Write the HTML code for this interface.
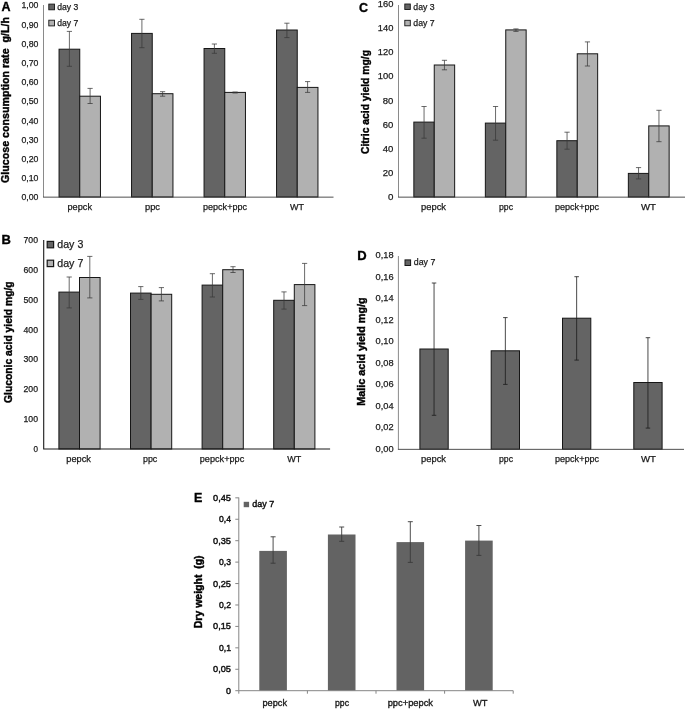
<!DOCTYPE html>
<html lang="en"><head><meta charset="utf-8"><title>Figure</title>
<style>
html,body{margin:0;padding:0;background:#fff;}
body{width:685px;height:709px;overflow:hidden;}
svg{display:block;font-family:"Liberation Sans",sans-serif;}
</style></head><body>
<svg width="685" height="709" viewBox="0 0 685 709">
<rect width="685" height="709" fill="#ffffff"/>
<g id="chartA">
<rect x="59.05" y="49.20" width="20.70" height="147.80" fill="#646464" stroke="#161616" stroke-width="1"/>
<rect x="79.75" y="96.20" width="20.70" height="100.80" fill="#b1b1b1" stroke="#161616" stroke-width="1"/>
<path d="M69.40 31.40V66.30M66.80 31.40H72.00M66.80 66.30H72.00" stroke="#3a3a3a" stroke-width="0.75" fill="none"/>
<path d="M90.10 88.40V103.50M87.50 88.40H92.70M87.50 103.50H92.70" stroke="#3a3a3a" stroke-width="0.75" fill="none"/>
<rect x="131.55" y="33.40" width="20.70" height="163.60" fill="#646464" stroke="#161616" stroke-width="1"/>
<rect x="152.25" y="93.70" width="20.70" height="103.30" fill="#b1b1b1" stroke="#161616" stroke-width="1"/>
<path d="M141.90 19.30V47.70M139.30 19.30H144.50M139.30 47.70H144.50" stroke="#3a3a3a" stroke-width="0.75" fill="none"/>
<path d="M162.60 91.70V96.20M160.00 91.70H165.20M160.00 96.20H165.20" stroke="#3a3a3a" stroke-width="0.75" fill="none"/>
<rect x="204.05" y="48.50" width="20.70" height="148.50" fill="#646464" stroke="#161616" stroke-width="1"/>
<rect x="224.75" y="92.40" width="20.70" height="104.60" fill="#b1b1b1" stroke="#161616" stroke-width="1"/>
<path d="M214.40 44.00V53.30M211.80 44.00H217.00M211.80 53.30H217.00" stroke="#3a3a3a" stroke-width="0.75" fill="none"/>
<path d="M235.10 92.00V93.00M232.50 92.00H237.70M232.50 93.00H237.70" stroke="#3a3a3a" stroke-width="0.75" fill="none"/>
<rect x="276.55" y="30.00" width="20.70" height="167.00" fill="#646464" stroke="#161616" stroke-width="1"/>
<rect x="297.25" y="87.40" width="20.70" height="109.60" fill="#b1b1b1" stroke="#161616" stroke-width="1"/>
<path d="M286.90 23.20V37.60M284.30 23.20H289.50M284.30 37.60H289.50" stroke="#3a3a3a" stroke-width="0.75" fill="none"/>
<path d="M307.60 81.60V92.40M305.00 81.60H310.20M305.00 92.40H310.20" stroke="#3a3a3a" stroke-width="0.75" fill="none"/>
<path d="M43.5 5V197" stroke="#8a8a8a" stroke-width="1" fill="none"/>
<path d="M43.0 197.15H333.5" stroke="#3c3c3c" stroke-width="0.9" fill="none"/>
<text x="38.4" y="200.3" font-size="9.6" text-anchor="end" textLength="17" lengthAdjust="spacingAndGlyphs" fill="#1a1a1a" stroke="#1a1a1a" stroke-width="0.25">0,00</text>
<text x="38.4" y="181.1" font-size="9.6" text-anchor="end" textLength="17" lengthAdjust="spacingAndGlyphs" fill="#1a1a1a" stroke="#1a1a1a" stroke-width="0.25">0,10</text>
<text x="38.4" y="161.9" font-size="9.6" text-anchor="end" textLength="17" lengthAdjust="spacingAndGlyphs" fill="#1a1a1a" stroke="#1a1a1a" stroke-width="0.25">0,20</text>
<text x="38.4" y="142.7" font-size="9.6" text-anchor="end" textLength="17" lengthAdjust="spacingAndGlyphs" fill="#1a1a1a" stroke="#1a1a1a" stroke-width="0.25">0,30</text>
<text x="38.4" y="123.5" font-size="9.6" text-anchor="end" textLength="17" lengthAdjust="spacingAndGlyphs" fill="#1a1a1a" stroke="#1a1a1a" stroke-width="0.25">0,40</text>
<text x="38.4" y="104.3" font-size="9.6" text-anchor="end" textLength="17" lengthAdjust="spacingAndGlyphs" fill="#1a1a1a" stroke="#1a1a1a" stroke-width="0.25">0,50</text>
<text x="38.4" y="85.1" font-size="9.6" text-anchor="end" textLength="17" lengthAdjust="spacingAndGlyphs" fill="#1a1a1a" stroke="#1a1a1a" stroke-width="0.25">0,60</text>
<text x="38.4" y="65.9" font-size="9.6" text-anchor="end" textLength="17" lengthAdjust="spacingAndGlyphs" fill="#1a1a1a" stroke="#1a1a1a" stroke-width="0.25">0,70</text>
<text x="38.4" y="46.7" font-size="9.6" text-anchor="end" textLength="17" lengthAdjust="spacingAndGlyphs" fill="#1a1a1a" stroke="#1a1a1a" stroke-width="0.25">0,80</text>
<text x="38.4" y="27.5" font-size="9.6" text-anchor="end" textLength="17" lengthAdjust="spacingAndGlyphs" fill="#1a1a1a" stroke="#1a1a1a" stroke-width="0.25">0,90</text>
<text x="38.4" y="8.3" font-size="9.6" text-anchor="end" textLength="17" lengthAdjust="spacingAndGlyphs" fill="#1a1a1a" stroke="#1a1a1a" stroke-width="0.25">1,00</text>
<text x="1.6" y="10.7" font-size="12.5" font-weight="bold" fill="#000" stroke="#000" stroke-width="0.35">A</text>
<text x="9.4" y="183" font-size="10.2" font-weight="bold" textLength="166" lengthAdjust="spacingAndGlyphs" transform="rotate(-90 9.4 183)" fill="#000" stroke="#000" stroke-width="0.4">Glucose consumption rate&#160; g/L/h</text>
<rect x="48.8" y="4.1" width="5.7" height="5.7" fill="#646464" stroke="#161616" stroke-width="0.9"/>
<text x="57.3" y="9.8" font-size="9.5" textLength="21" lengthAdjust="spacingAndGlyphs" fill="#1a1a1a" stroke="#1a1a1a" stroke-width="0.25">day 3</text>
<rect x="48.8" y="20.2" width="5.7" height="5.7" fill="#b1b1b1" stroke="#161616" stroke-width="0.9"/>
<text x="57.3" y="25.8" font-size="9.5" textLength="21" lengthAdjust="spacingAndGlyphs" fill="#1a1a1a" stroke="#1a1a1a" stroke-width="0.25">day 7</text>
<text x="79.75" y="210" font-size="9.3" text-anchor="middle" textLength="24.5" lengthAdjust="spacingAndGlyphs" fill="#1a1a1a" stroke="#1a1a1a" stroke-width="0.25">pepck</text>
<text x="152.5" y="210" font-size="9.3" text-anchor="middle" textLength="15" lengthAdjust="spacingAndGlyphs" fill="#1a1a1a" stroke="#1a1a1a" stroke-width="0.25">ppc</text>
<text x="225.0" y="210" font-size="9.3" text-anchor="middle" textLength="44" lengthAdjust="spacingAndGlyphs" fill="#1a1a1a" stroke="#1a1a1a" stroke-width="0.25">pepck+ppc</text>
<text x="297.0" y="210" font-size="9.3" text-anchor="middle" textLength="14" lengthAdjust="spacingAndGlyphs" fill="#1a1a1a" stroke="#1a1a1a" stroke-width="0.25">WT</text>
</g>
<g id="chartC">
<rect x="413.85" y="122.10" width="20.40" height="74.90" fill="#646464" stroke="#161616" stroke-width="1"/>
<rect x="434.25" y="65.00" width="20.40" height="132.00" fill="#b1b1b1" stroke="#161616" stroke-width="1"/>
<path d="M424.05 106.50V138.20M421.45 106.50H426.65M421.45 138.20H426.65" stroke="#3a3a3a" stroke-width="0.75" fill="none"/>
<path d="M444.45 60.30V69.80M441.85 60.30H447.05M441.85 69.80H447.05" stroke="#3a3a3a" stroke-width="0.75" fill="none"/>
<rect x="485.35" y="123.10" width="20.40" height="73.90" fill="#646464" stroke="#161616" stroke-width="1"/>
<rect x="505.75" y="29.90" width="20.40" height="167.10" fill="#b1b1b1" stroke="#161616" stroke-width="1"/>
<path d="M495.55 106.50V140.20M492.95 106.50H498.15M492.95 140.20H498.15" stroke="#3a3a3a" stroke-width="0.75" fill="none"/>
<path d="M515.95 28.90V31.40M513.35 28.90H518.55M513.35 31.40H518.55" stroke="#3a3a3a" stroke-width="0.75" fill="none"/>
<rect x="556.85" y="140.70" width="20.40" height="56.30" fill="#646464" stroke="#161616" stroke-width="1"/>
<rect x="577.25" y="53.80" width="20.40" height="143.20" fill="#b1b1b1" stroke="#161616" stroke-width="1"/>
<path d="M567.05 132.20V149.20M564.45 132.20H569.65M564.45 149.20H569.65" stroke="#3a3a3a" stroke-width="0.75" fill="none"/>
<path d="M587.45 41.90V66.00M584.85 41.90H590.05M584.85 66.00H590.05" stroke="#3a3a3a" stroke-width="0.75" fill="none"/>
<rect x="628.35" y="173.40" width="20.40" height="23.60" fill="#646464" stroke="#161616" stroke-width="1"/>
<rect x="648.75" y="125.90" width="20.40" height="71.10" fill="#b1b1b1" stroke="#161616" stroke-width="1"/>
<path d="M638.55 167.60V178.90M635.95 167.60H641.15M635.95 178.90H641.15" stroke="#3a3a3a" stroke-width="0.75" fill="none"/>
<path d="M658.95 110.30V141.70M656.35 110.30H661.55M656.35 141.70H661.55" stroke="#3a3a3a" stroke-width="0.75" fill="none"/>
<path d="M398.5 5V197" stroke="#8a8a8a" stroke-width="1" fill="none"/>
<path d="M398.0 197.15H685" stroke="#3c3c3c" stroke-width="0.9" fill="none"/>
<text x="393.4" y="199.9" font-size="9.7" text-anchor="end" textLength="5.4" lengthAdjust="spacingAndGlyphs" fill="#1a1a1a" stroke="#1a1a1a" stroke-width="0.25">0</text>
<text x="393.4" y="175.8" font-size="9.7" text-anchor="end" textLength="10.6" lengthAdjust="spacingAndGlyphs" fill="#1a1a1a" stroke="#1a1a1a" stroke-width="0.25">20</text>
<text x="393.4" y="151.7" font-size="9.7" text-anchor="end" textLength="10.6" lengthAdjust="spacingAndGlyphs" fill="#1a1a1a" stroke="#1a1a1a" stroke-width="0.25">40</text>
<text x="393.4" y="127.6" font-size="9.7" text-anchor="end" textLength="10.6" lengthAdjust="spacingAndGlyphs" fill="#1a1a1a" stroke="#1a1a1a" stroke-width="0.25">60</text>
<text x="393.4" y="103.5" font-size="9.7" text-anchor="end" textLength="10.6" lengthAdjust="spacingAndGlyphs" fill="#1a1a1a" stroke="#1a1a1a" stroke-width="0.25">80</text>
<text x="393.4" y="79.4" font-size="9.7" text-anchor="end" textLength="15.6" lengthAdjust="spacingAndGlyphs" fill="#1a1a1a" stroke="#1a1a1a" stroke-width="0.25">100</text>
<text x="393.4" y="55.3" font-size="9.7" text-anchor="end" textLength="15.6" lengthAdjust="spacingAndGlyphs" fill="#1a1a1a" stroke="#1a1a1a" stroke-width="0.25">120</text>
<text x="393.4" y="31.2" font-size="9.7" text-anchor="end" textLength="15.6" lengthAdjust="spacingAndGlyphs" fill="#1a1a1a" stroke="#1a1a1a" stroke-width="0.25">140</text>
<text x="393.4" y="7.1" font-size="9.7" text-anchor="end" textLength="15.6" lengthAdjust="spacingAndGlyphs" fill="#1a1a1a" stroke="#1a1a1a" stroke-width="0.25">160</text>
<text x="359" y="11.6" font-size="12.5" font-weight="bold" fill="#000" stroke="#000" stroke-width="0.35">C</text>
<text x="369" y="154" font-size="10.2" font-weight="bold" textLength="104" lengthAdjust="spacingAndGlyphs" transform="rotate(-90 369 154)" fill="#000" stroke="#000" stroke-width="0.4">Citric acid yield mg/g</text>
<rect x="404.8" y="4" width="5.5" height="5.5" fill="#646464" stroke="#161616" stroke-width="0.9"/>
<text x="413.3" y="9.8" font-size="9.5" textLength="21.3" lengthAdjust="spacingAndGlyphs" fill="#1a1a1a" stroke="#1a1a1a" stroke-width="0.25">day 3</text>
<rect x="404.8" y="20.3" width="5.5" height="5.5" fill="#b1b1b1" stroke="#161616" stroke-width="0.9"/>
<text x="413.3" y="25.9" font-size="9.5" textLength="21.3" lengthAdjust="spacingAndGlyphs" fill="#1a1a1a" stroke="#1a1a1a" stroke-width="0.25">day 7</text>
<text x="433.5" y="210" font-size="9.3" text-anchor="middle" textLength="25" lengthAdjust="spacingAndGlyphs" fill="#1a1a1a" stroke="#1a1a1a" stroke-width="0.25">pepck</text>
<text x="506.0" y="210" font-size="9.3" text-anchor="middle" textLength="14" lengthAdjust="spacingAndGlyphs" fill="#1a1a1a" stroke="#1a1a1a" stroke-width="0.25">ppc</text>
<text x="577.0" y="210" font-size="9.3" text-anchor="middle" textLength="44" lengthAdjust="spacingAndGlyphs" fill="#1a1a1a" stroke="#1a1a1a" stroke-width="0.25">pepck+ppc</text>
<text x="648.5" y="210" font-size="9.3" text-anchor="middle" textLength="15" lengthAdjust="spacingAndGlyphs" fill="#1a1a1a" stroke="#1a1a1a" stroke-width="0.25">WT</text>
</g>
<g id="chartB">
<rect x="58.90" y="292.10" width="20.60" height="156.90" fill="#646464" stroke="#161616" stroke-width="1"/>
<rect x="79.50" y="277.50" width="20.60" height="171.50" fill="#b1b1b1" stroke="#161616" stroke-width="1"/>
<path d="M69.20 277.00V307.90M66.60 277.00H71.80M66.60 307.90H71.80" stroke="#3a3a3a" stroke-width="0.75" fill="none"/>
<path d="M89.80 256.40V297.90M87.20 256.40H92.40M87.20 297.90H92.40" stroke="#3a3a3a" stroke-width="0.75" fill="none"/>
<rect x="130.50" y="293.10" width="20.60" height="155.90" fill="#646464" stroke="#161616" stroke-width="1"/>
<rect x="151.10" y="294.30" width="20.60" height="154.70" fill="#b1b1b1" stroke="#161616" stroke-width="1"/>
<path d="M140.80 286.60V299.40M138.20 286.60H143.40M138.20 299.40H143.40" stroke="#3a3a3a" stroke-width="0.75" fill="none"/>
<path d="M161.40 287.60V300.90M158.80 287.60H164.00M158.80 300.90H164.00" stroke="#3a3a3a" stroke-width="0.75" fill="none"/>
<rect x="202.10" y="285.10" width="20.60" height="163.90" fill="#646464" stroke="#161616" stroke-width="1"/>
<rect x="222.70" y="269.70" width="20.60" height="179.30" fill="#b1b1b1" stroke="#161616" stroke-width="1"/>
<path d="M212.40 273.70V297.00M209.80 273.70H215.00M209.80 297.00H215.00" stroke="#3a3a3a" stroke-width="0.75" fill="none"/>
<path d="M233.00 266.70V272.50M230.40 266.70H235.60M230.40 272.50H235.60" stroke="#3a3a3a" stroke-width="0.75" fill="none"/>
<rect x="273.70" y="300.30" width="20.60" height="148.70" fill="#646464" stroke="#161616" stroke-width="1"/>
<rect x="294.30" y="284.60" width="20.60" height="164.40" fill="#b1b1b1" stroke="#161616" stroke-width="1"/>
<path d="M284.00 291.90V309.10M281.40 291.90H286.60M281.40 309.10H286.60" stroke="#3a3a3a" stroke-width="0.75" fill="none"/>
<path d="M304.60 263.40V305.60M302.00 263.40H307.20M302.00 305.60H307.20" stroke="#3a3a3a" stroke-width="0.75" fill="none"/>
<path d="M43.7 240V449.05H330.09999999999997" stroke="#1a1a1a" stroke-width="1.1" fill="none"/>
<text x="38" y="452.2" font-size="9" text-anchor="end" textLength="4.5" lengthAdjust="spacingAndGlyphs" fill="#1a1a1a" stroke="#1a1a1a" stroke-width="0.25">0</text>
<text x="38" y="422.3" font-size="9" text-anchor="end" textLength="14.5" lengthAdjust="spacingAndGlyphs" fill="#1a1a1a" stroke="#1a1a1a" stroke-width="0.25">100</text>
<text x="38" y="392.3" font-size="9" text-anchor="end" textLength="14.5" lengthAdjust="spacingAndGlyphs" fill="#1a1a1a" stroke="#1a1a1a" stroke-width="0.25">200</text>
<text x="38" y="362.4" font-size="9" text-anchor="end" textLength="14.5" lengthAdjust="spacingAndGlyphs" fill="#1a1a1a" stroke="#1a1a1a" stroke-width="0.25">300</text>
<text x="38" y="332.5" font-size="9" text-anchor="end" textLength="14.5" lengthAdjust="spacingAndGlyphs" fill="#1a1a1a" stroke="#1a1a1a" stroke-width="0.25">400</text>
<text x="38" y="302.6" font-size="9" text-anchor="end" textLength="14.5" lengthAdjust="spacingAndGlyphs" fill="#1a1a1a" stroke="#1a1a1a" stroke-width="0.25">500</text>
<text x="38" y="272.6" font-size="9" text-anchor="end" textLength="14.5" lengthAdjust="spacingAndGlyphs" fill="#1a1a1a" stroke="#1a1a1a" stroke-width="0.25">600</text>
<text x="38" y="242.7" font-size="9" text-anchor="end" textLength="14.5" lengthAdjust="spacingAndGlyphs" fill="#1a1a1a" stroke="#1a1a1a" stroke-width="0.25">700</text>
<text x="1.5" y="244.4" font-size="13" font-weight="bold" fill="#000" stroke="#000" stroke-width="0.35">B</text>
<text x="12.2" y="403" font-size="10.2" font-weight="bold" textLength="121.7" lengthAdjust="spacingAndGlyphs" transform="rotate(-90 12.2 403)" fill="#000" stroke="#000" stroke-width="0.4">Gluconic acid yield mg/g</text>
<rect x="47.2" y="241.4" width="6.4" height="6.4" fill="#646464" stroke="#161616" stroke-width="1.2"/>
<text x="57.3" y="247.7" font-size="11.5" textLength="26" lengthAdjust="spacingAndGlyphs" fill="#1a1a1a" stroke="#1a1a1a" stroke-width="0.25">day 3</text>
<rect x="47.2" y="260.2" width="6.4" height="6.4" fill="#b1b1b1" stroke="#161616" stroke-width="1.2"/>
<text x="57.3" y="267" font-size="11.5" textLength="26" lengthAdjust="spacingAndGlyphs" fill="#1a1a1a" stroke="#1a1a1a" stroke-width="0.25">day 7</text>
<text x="78.65" y="462" font-size="9.3" text-anchor="middle" textLength="24.700000000000003" lengthAdjust="spacingAndGlyphs" fill="#1a1a1a" stroke="#1a1a1a" stroke-width="0.25">pepck</text>
<text x="150.15" y="462" font-size="9.3" text-anchor="middle" textLength="14.300000000000011" lengthAdjust="spacingAndGlyphs" fill="#1a1a1a" stroke="#1a1a1a" stroke-width="0.25">ppc</text>
<text x="222.0" y="462" font-size="9.3" text-anchor="middle" textLength="44.39999999999998" lengthAdjust="spacingAndGlyphs" fill="#1a1a1a" stroke="#1a1a1a" stroke-width="0.25">pepck+ppc</text>
<text x="294.3" y="462" font-size="9.3" text-anchor="middle" textLength="14.0" lengthAdjust="spacingAndGlyphs" fill="#1a1a1a" stroke="#1a1a1a" stroke-width="0.25">WT</text>
</g>
<g id="chartD">
<rect x="419.90" y="349.00" width="28.30" height="100.20" fill="#646464" stroke="#161616" stroke-width="1"/>
<path d="M434.05 283.00V415.30M431.80 283.00H436.30M431.80 415.30H436.30" stroke="#1c1c1c" stroke-width="0.8" fill="none"/>
<rect x="491.20" y="350.80" width="28.30" height="98.40" fill="#646464" stroke="#161616" stroke-width="1"/>
<path d="M505.35 317.60V384.40M503.10 317.60H507.60M503.10 384.40H507.60" stroke="#1c1c1c" stroke-width="0.8" fill="none"/>
<rect x="562.50" y="318.20" width="28.30" height="131.00" fill="#646464" stroke="#161616" stroke-width="1"/>
<path d="M576.65 276.70V360.10M574.40 276.70H578.90M574.40 360.10H578.90" stroke="#1c1c1c" stroke-width="0.8" fill="none"/>
<rect x="633.80" y="382.50" width="28.30" height="66.70" fill="#646464" stroke="#161616" stroke-width="1"/>
<path d="M647.95 337.70V428.10M645.70 337.70H650.20M645.70 428.10H650.20" stroke="#1c1c1c" stroke-width="0.8" fill="none"/>
<path d="M398.4 256V449.2" stroke="#8a8a8a" stroke-width="1" fill="none"/>
<path d="M397.9 449.34999999999997H684" stroke="#3c3c3c" stroke-width="0.9" fill="none"/>
<text x="393.6" y="451.7" font-size="9.7" text-anchor="end" textLength="18" lengthAdjust="spacingAndGlyphs" fill="#1a1a1a" stroke="#1a1a1a" stroke-width="0.25">0,00</text>
<text x="393.6" y="430.2" font-size="9.7" text-anchor="end" textLength="18" lengthAdjust="spacingAndGlyphs" fill="#1a1a1a" stroke="#1a1a1a" stroke-width="0.25">0,02</text>
<text x="393.6" y="408.7" font-size="9.7" text-anchor="end" textLength="18" lengthAdjust="spacingAndGlyphs" fill="#1a1a1a" stroke="#1a1a1a" stroke-width="0.25">0,04</text>
<text x="393.6" y="387.2" font-size="9.7" text-anchor="end" textLength="18" lengthAdjust="spacingAndGlyphs" fill="#1a1a1a" stroke="#1a1a1a" stroke-width="0.25">0,06</text>
<text x="393.6" y="365.7" font-size="9.7" text-anchor="end" textLength="18" lengthAdjust="spacingAndGlyphs" fill="#1a1a1a" stroke="#1a1a1a" stroke-width="0.25">0,08</text>
<text x="393.6" y="344.2" font-size="9.7" text-anchor="end" textLength="18" lengthAdjust="spacingAndGlyphs" fill="#1a1a1a" stroke="#1a1a1a" stroke-width="0.25">0,10</text>
<text x="393.6" y="322.7" font-size="9.7" text-anchor="end" textLength="18" lengthAdjust="spacingAndGlyphs" fill="#1a1a1a" stroke="#1a1a1a" stroke-width="0.25">0,12</text>
<text x="393.6" y="301.2" font-size="9.7" text-anchor="end" textLength="18" lengthAdjust="spacingAndGlyphs" fill="#1a1a1a" stroke="#1a1a1a" stroke-width="0.25">0,14</text>
<text x="393.6" y="279.7" font-size="9.7" text-anchor="end" textLength="18" lengthAdjust="spacingAndGlyphs" fill="#1a1a1a" stroke="#1a1a1a" stroke-width="0.25">0,16</text>
<text x="393.6" y="258.2" font-size="9.7" text-anchor="end" textLength="18" lengthAdjust="spacingAndGlyphs" fill="#1a1a1a" stroke="#1a1a1a" stroke-width="0.25">0,18</text>
<text x="357.2" y="259.8" font-size="13" font-weight="bold" fill="#000" stroke="#000" stroke-width="0.35">D</text>
<text x="365.2" y="405.8" font-size="10.2" font-weight="bold" textLength="108.5" lengthAdjust="spacingAndGlyphs" transform="rotate(-90 365.2 405.8)" fill="#000" stroke="#000" stroke-width="0.4">Malic acid yield mg/g</text>
<rect x="405" y="259.9" width="5.6" height="5.6" fill="#646464" stroke="#161616" stroke-width="1.0"/>
<text x="413.8" y="265.2" font-size="9.5" textLength="21.6" lengthAdjust="spacingAndGlyphs" fill="#1a1a1a" stroke="#1a1a1a" stroke-width="0.25">day 7</text>
<text x="433.5" y="462" font-size="9.3" text-anchor="middle" textLength="25" lengthAdjust="spacingAndGlyphs" fill="#1a1a1a" stroke="#1a1a1a" stroke-width="0.25">pepck</text>
<text x="506.0" y="462" font-size="9.3" text-anchor="middle" textLength="14" lengthAdjust="spacingAndGlyphs" fill="#1a1a1a" stroke="#1a1a1a" stroke-width="0.25">ppc</text>
<text x="577.0" y="462" font-size="9.3" text-anchor="middle" textLength="44" lengthAdjust="spacingAndGlyphs" fill="#1a1a1a" stroke="#1a1a1a" stroke-width="0.25">pepck+ppc</text>
<text x="648.5" y="462" font-size="9.3" text-anchor="middle" textLength="15" lengthAdjust="spacingAndGlyphs" fill="#1a1a1a" stroke="#1a1a1a" stroke-width="0.25">WT</text>
</g>
<g id="chartE">
<rect x="259.30" y="550.90" width="27.60" height="139.80" fill="#636363"/>
<path d="M273.10 536.80V563.20M270.60 536.80H275.60M270.60 563.20H275.60" stroke="#3a3a3a" stroke-width="0.9" fill="none"/>
<rect x="327.90" y="534.50" width="27.60" height="156.20" fill="#636363"/>
<path d="M341.70 527.00V541.30M339.20 527.00H344.20M339.20 541.30H344.20" stroke="#3a3a3a" stroke-width="0.9" fill="none"/>
<rect x="396.50" y="542.10" width="27.60" height="148.60" fill="#636363"/>
<path d="M410.30 521.70V562.40M407.80 521.70H412.80M407.80 562.40H412.80" stroke="#3a3a3a" stroke-width="0.9" fill="none"/>
<rect x="465.10" y="540.60" width="27.60" height="150.10" fill="#636363"/>
<path d="M478.90 525.50V555.40M476.40 525.50H481.40M476.40 555.40H481.40" stroke="#3a3a3a" stroke-width="0.9" fill="none"/>
<path d="M238.8 497.5V690.7H513.2M235.3 690.70H238.8M235.3 669.27H238.8M235.3 647.84H238.8M235.3 626.41H238.8M235.3 604.98H238.8M235.3 583.55H238.8M235.3 562.12H238.8M235.3 540.69H238.8M235.3 519.26H238.8M235.3 497.83H238.8M238.80 690.7V693.7M307.40 690.7V693.7M376.00 690.7V693.7M444.60 690.7V693.7M513.20 690.7V693.7" stroke="#858585" stroke-width="1" fill="none"/>
<text x="231" y="693.6" font-size="9.6" text-anchor="end" textLength="5" lengthAdjust="spacingAndGlyphs" fill="#111" stroke="#111" stroke-width="0.45">0</text>
<text x="231" y="672.2" font-size="9.6" text-anchor="end" textLength="18" lengthAdjust="spacingAndGlyphs" fill="#111" stroke="#111" stroke-width="0.45">0,05</text>
<text x="231" y="650.7" font-size="9.6" text-anchor="end" textLength="12" lengthAdjust="spacingAndGlyphs" fill="#111" stroke="#111" stroke-width="0.45">0,1</text>
<text x="231" y="629.3" font-size="9.6" text-anchor="end" textLength="18" lengthAdjust="spacingAndGlyphs" fill="#111" stroke="#111" stroke-width="0.45">0,15</text>
<text x="231" y="607.9" font-size="9.6" text-anchor="end" textLength="12" lengthAdjust="spacingAndGlyphs" fill="#111" stroke="#111" stroke-width="0.45">0,2</text>
<text x="231" y="586.5" font-size="9.6" text-anchor="end" textLength="18" lengthAdjust="spacingAndGlyphs" fill="#111" stroke="#111" stroke-width="0.45">0,25</text>
<text x="231" y="565.0" font-size="9.6" text-anchor="end" textLength="12" lengthAdjust="spacingAndGlyphs" fill="#111" stroke="#111" stroke-width="0.45">0,3</text>
<text x="231" y="543.6" font-size="9.6" text-anchor="end" textLength="18" lengthAdjust="spacingAndGlyphs" fill="#111" stroke="#111" stroke-width="0.45">0,35</text>
<text x="231" y="522.2" font-size="9.6" text-anchor="end" textLength="12" lengthAdjust="spacingAndGlyphs" fill="#111" stroke="#111" stroke-width="0.45">0,4</text>
<text x="231" y="500.7" font-size="9.6" text-anchor="end" textLength="18" lengthAdjust="spacingAndGlyphs" fill="#111" stroke="#111" stroke-width="0.45">0,45</text>
<text x="194" y="501.8" font-size="12.5" font-weight="bold" fill="#000" stroke="#000" stroke-width="0.35">E</text>
<text x="202" y="628.2" font-size="10.2" font-weight="bold" textLength="72.8" lengthAdjust="spacingAndGlyphs" transform="rotate(-90 202 628.2)" fill="#000" stroke="#000" stroke-width="0.4">Dry weight&#160; (g)</text>
<rect x="243.7" y="501.8" width="5.4" height="5.4" fill="#636363"/>
<text x="252.3" y="507.2" font-size="9.5" textLength="22" lengthAdjust="spacingAndGlyphs" fill="#111" stroke="#111" stroke-width="0.45">day 7</text>
<text x="274.75" y="706" font-size="9.3" text-anchor="middle" textLength="24.5" lengthAdjust="spacingAndGlyphs" fill="#1a1a1a" stroke="#1a1a1a" stroke-width="0.35">pepck</text>
<text x="342.0" y="706" font-size="9.3" text-anchor="middle" textLength="14" lengthAdjust="spacingAndGlyphs" fill="#1a1a1a" stroke="#1a1a1a" stroke-width="0.35">ppc</text>
<text x="410.35" y="706" font-size="9.3" text-anchor="middle" textLength="45.30000000000001" lengthAdjust="spacingAndGlyphs" fill="#1a1a1a" stroke="#1a1a1a" stroke-width="0.35">ppc+pepck</text>
<text x="480.25" y="706" font-size="9.3" text-anchor="middle" textLength="14.5" lengthAdjust="spacingAndGlyphs" fill="#1a1a1a" stroke="#1a1a1a" stroke-width="0.35">WT</text>
</g>
</svg>
</body></html>
